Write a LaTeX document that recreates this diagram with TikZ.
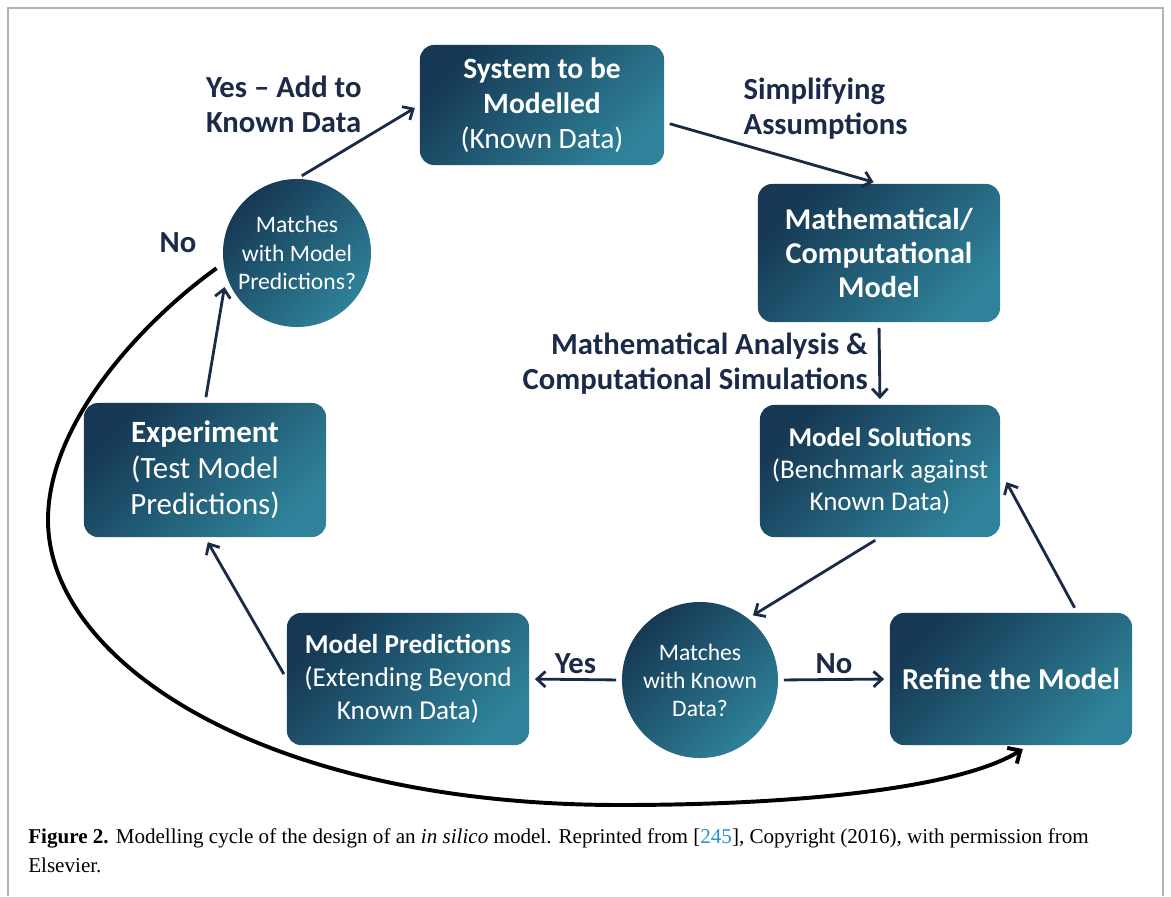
\documentclass[tikz,border=0pt]{standalone}
\usepackage{fontspec}
\setmainfont{Carlito}
\newfontfamily\capfont{Liberation Serif}
\usetikzlibrary{arrows.meta}
\definecolor{boxdark}{HTML}{163854}
\definecolor{boxlight}{HTML}{2F8299}
\definecolor{ink}{HTML}{1B2A47}
\definecolor{framegray}{HTML}{B4B4B4}
\definecolor{refblue}{HTML}{2A8FD0}

\begin{document}
\begin{tikzpicture}[x=0.025cm,y=-0.025cm,
    box/.style={rectangle,rounded corners=0.35cm,top color=boxdark,bottom color=boxlight,shading angle=45,
        text=white,align=center,minimum width=6.05cm,minimum height=3.3cm},
    query/.style={circle,top color=boxdark,bottom color=boxlight,shading angle=45,
        text=white,align=center,inner sep=0pt,minimum size=3.9cm,font=\fontsize{16.8}{20}\selectfont},
    flow/.style={ink,line width=2pt,-{Straight Barb[length=6pt,width=11pt,line width=2pt]},shorten >=4pt,shorten <=4pt},
    loopback/.style={black,line width=2.8pt,-{Straight Barb[length=7pt,width=13pt,line width=2.8pt]}},
    lbl/.style={ink,font=\fontsize{21.8}{25}\selectfont\bfseries}]

    \useasboundingbox (0,0) rectangle (1171,896);
    \draw[framegray,line width=1.4pt] (8,896) -- (8,8) -- (1163,8) -- (1163,896);

    \node[box,minimum width=6.1cm,minimum height=3.0cm,font=\fontsize{21}{25}\selectfont] (A) at (542,105) {\textbf{System to be}\\\textbf{Modelled}\\(Known Data)};
    \node[box,minimum height=3.45cm,font=\fontsize{21.5}{24.5}\selectfont] (B) at (879,253) {\textbf{Mathematical/}\\\textbf{Computational}\\\textbf{Model}};
    \node[box,minimum width=6.0cm,font=\fontsize{19.2}{22.8}\selectfont] (C) at (880,471) {\textbf{Model Solutions}\\(Benchmark against\\Known Data)};
    \node[box,font=\fontsize{21.6}{25}\selectfont] (D) at (1011,679) {\textbf{Refine the Model}};
    \node[query] (E) at (700,680) {Matches\\with Known\\Data?};
    \node[box,font=\fontsize{19.4}{23.5}\selectfont] (F) at (408,679) {\textbf{Model Predictions}\\(Extending Beyond\\Known Data)};
    \node[box,minimum height=3.35cm,font=\fontsize{22}{25.6}\selectfont] (G) at (205,470) {\textbf{Experiment}\\(Test Model\\Predictions)};
    \node[query,minimum size=3.7cm] (H) at (297,253) {Matches\\with Model\\Predictions?};

    \path [flow](A.-8) edge node[lbl,pos=0.35,anchor=south west,align=left,inner sep=2pt] {Simplifying\\Assumptions} (B.north);
    \path [flow](B.south) edge node[lbl,left,align=right,xshift=-4pt] {Mathematical Analysis \&\\Computational Simulations} (C.north);
    \path [flow](C.south) edge (E.52);
    \path [flow](E.east) edge node[lbl,above] {No} (D.west);
    \path [flow](E.west) edge node[lbl,above] {Yes} (F.east);
    \path [flow,shorten >=9pt](D.45) edge (C.east);
    \path [flow](F.west) edge (G.south);
    \path [flow,shorten >=8pt](G.north) edge (H.198);
    \path [flow](H.north) edge node[lbl,pos=0.56,anchor=south east,align=left,inner sep=2pt] {Yes -- Add to\\Known Data} (A.west);

    \draw[loopback,shorten <=6pt,shorten >=5pt] (H.188) .. controls (147,318) and (48,420) .. (48,520)
        .. controls (48,660) and (260,805) .. (620,805)
        .. controls (800,805) and (960,788) .. (D.-75);
    \node[lbl] (N) at (178,243) {No};

    \node[anchor=base west,align=left,inner sep=0pt,font=\capfont\fontsize{15}{20.6}\selectfont] (cap) at (28,872)
        {\textbf{Figure 2.} Modelling cycle of the design of an \textit{in silico} model. Reprinted from [\textcolor{refblue}{245}], Copyright (2016), with permission from\\Elsevier.};
    \end{tikzpicture}
\end{document}
